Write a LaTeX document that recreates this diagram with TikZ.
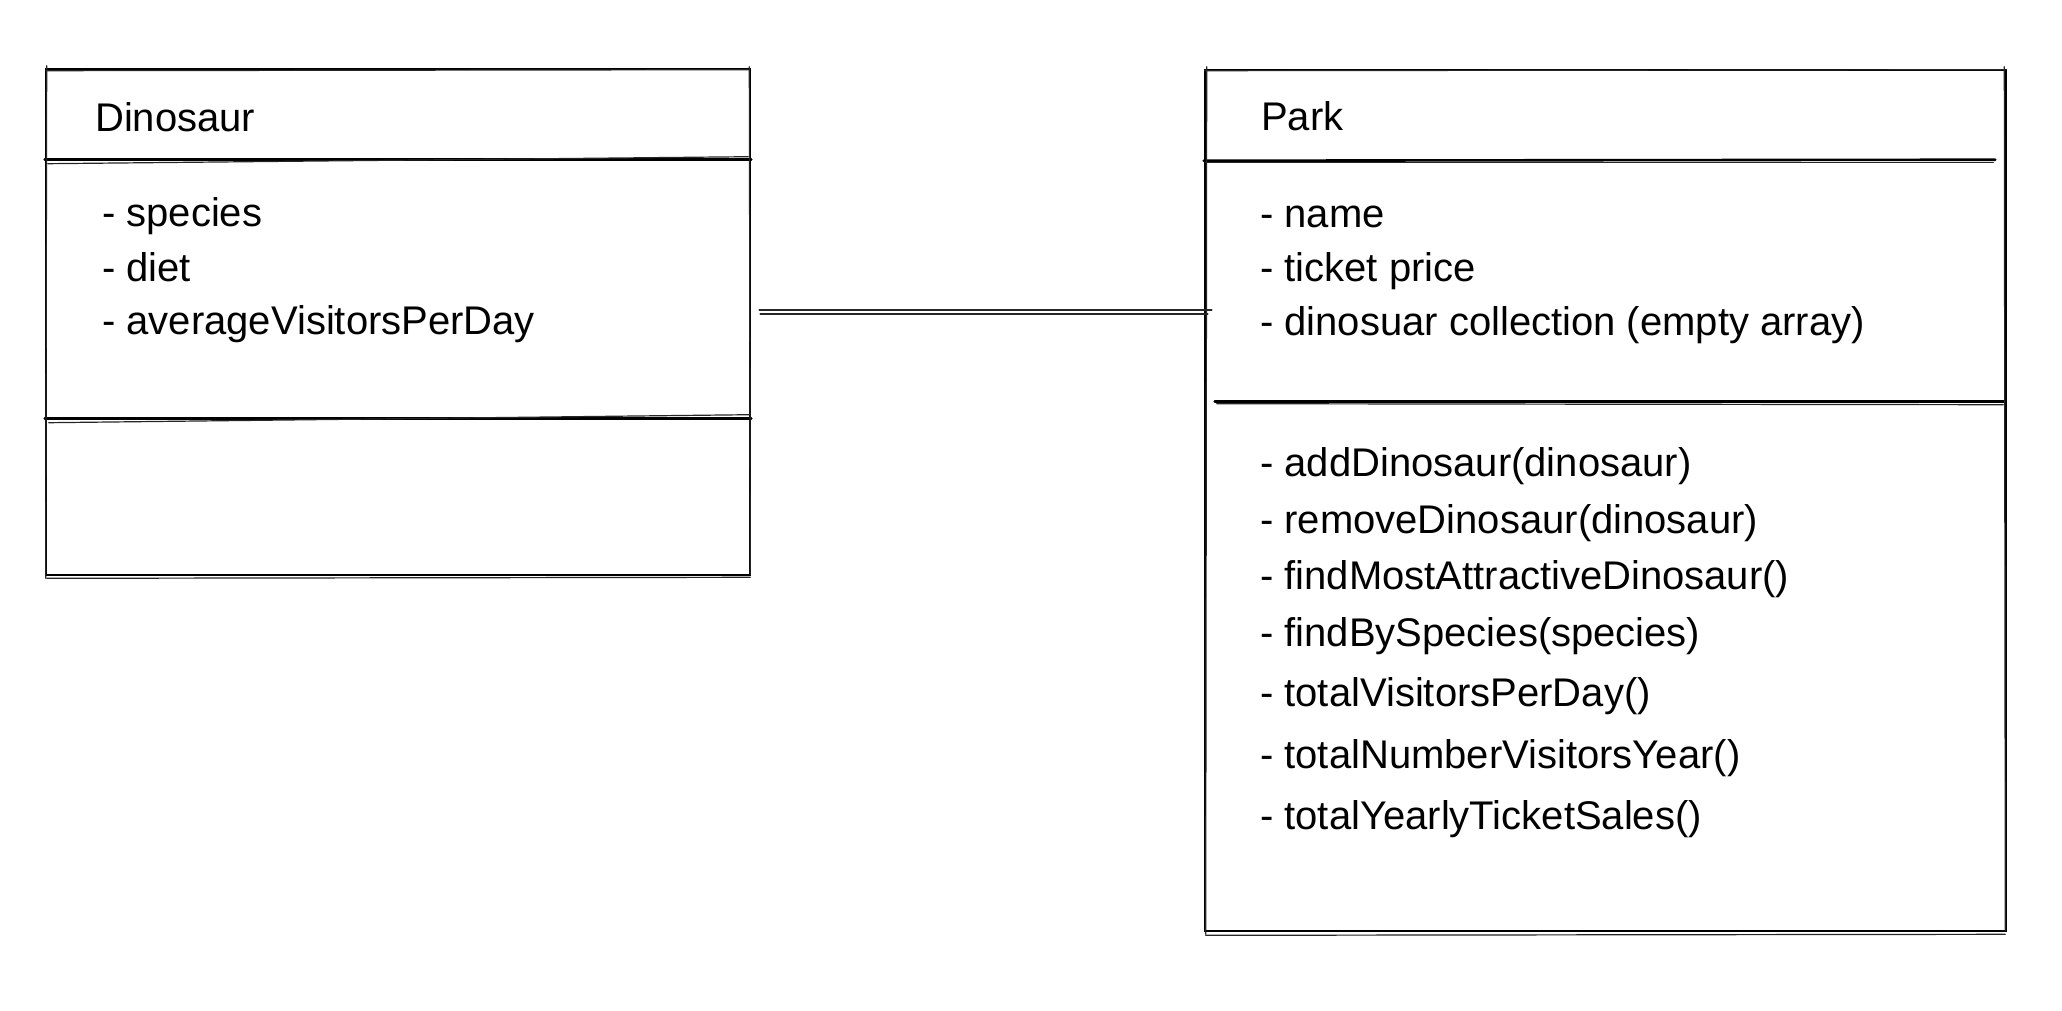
\documentclass[tikz,border=0pt]{standalone}
\usepackage{fontspec}
\setmainfont{Liberation Sans}
\begin{document}
\begin{tikzpicture}[x=1pt,y=-1pt,
  ink/.style={draw=black, line width=2.6pt, line cap=round},
  ink2/.style={draw=black!85, line width=1.2pt, line cap=round},
  umlbox/.style={ink, rectangle, inner sep=0pt, minimum width=#1},
  txt/.style={inner sep=0pt, anchor=base west, font=\fontsize{40}{48}\selectfont, text=black}
]
\useasboundingbox (0,0) rectangle (2062,1010);
% ---------- Dinosaur class ----------
\node[umlbox=704pt, minimum height=506pt] (dino) at (398,322) {};
\draw[ink] ([yshift=-92pt]dino.north west) coordinate (dh1) -- ([yshift=-92pt]dino.north east) coordinate (dh2);
\draw[ink] ([yshift=-351pt]dino.north west) coordinate (dd1) -- ([yshift=-351pt]dino.north east) coordinate (dd2);
% sketch double strokes
\draw[ink2] ([xshift=1pt,yshift=-3pt]dino.north west) -- ([xshift=-2pt,yshift=-2pt]dino.north east);
\draw[ink2] ([xshift=-2pt,yshift=1pt]dino.north east) -- ([xshift=-1pt,yshift=2pt]dino.south east);
\draw[ink2] ([xshift=2pt,yshift=-2pt]dino.south west) -- ([xshift=-1pt,yshift=-1pt]dino.south east);
\draw[ink2] ([xshift=2pt,yshift=2pt]dino.north west) -- ([xshift=1pt,yshift=-2pt]dino.south west);
\draw[ink2] ([xshift=3pt,yshift=-4pt]dh1) -- ([xshift=-3pt,yshift=3pt]dh2);
\draw[ink2] ([xshift=4pt,yshift=-4pt]dd1) -- ([xshift=-2pt,yshift=4pt]dd2);
\node[txt] (dname) at (95,131) {Dinosaur};
\node[txt] (da1) at (102,226) {- species};
\node[txt] (da2) at (102,281) {- diet};
\node[txt] (da3) at (102,334) {- averageVisitorsPerDay};
% ---------- Park class ----------
\node[umlbox=801pt, minimum height=861pt] (park) at (1605.5,500.5) {};
\draw[ink] ([yshift=-92pt]park.north west) coordinate (ph1) -- ([xshift=-12pt,yshift=-91pt]park.north east) coordinate (ph2);
\draw[ink] ([xshift=11pt,yshift=-333pt]park.north west) coordinate (pd1) -- ([xshift=-2pt,yshift=-333pt]park.north east) coordinate (pd2);
\draw[ink2] ([xshift=1pt,yshift=-2pt]park.north west) -- ([xshift=-2pt,yshift=-1pt]park.north east);
\draw[ink2] ([xshift=-3pt,yshift=2pt]park.north east) -- ([xshift=-2pt,yshift=2pt]park.south east);
\draw[ink2] ([xshift=2pt,yshift=-3pt]park.south west) -- ([xshift=-2pt,yshift=-2pt]park.south east);
\draw[ink2] ([xshift=3pt,yshift=2pt]park.north west) -- ([xshift=2pt,yshift=-2pt]park.south west);
\draw[ink2] ([xshift=2pt,yshift=-2pt]ph1) -- ([xshift=-2pt,yshift=-3pt]ph2);
\draw[ink2] ([xshift=2pt,yshift=-2pt]pd1) -- ([xshift=-2pt,yshift=-3pt]pd2);
\node[txt] (pname) at (1261,130) {Park};
\node[txt] (pa1) at (1260,227) {- name};
\node[txt] (pa2) at (1260,281) {- ticket price};
\node[txt] (pa3) at (1260,335) {- dinosuar collection (empty array)};
\node[txt] (pm1) at (1260,476) {- addDinosaur(dinosaur)};
\node[txt] (pm2) at (1260,533) {- removeDinosaur(dinosaur)};
\node[txt] (pm3) at (1260,589) {- findMostAttractiveDinosaur()};
\node[txt] (pm4) at (1260,646) {- findBySpecies(species)};
\node[txt] (pm5) at (1260,706) {- totalVisitorsPerDay()};
\node[txt] (pm6) at (1260,768) {- totalNumberVisitorsYear()};
\node[txt] (pm7) at (1260,829) {- totalYearlyTicketSales()};
% ---------- association ----------
\coordinate (cy) at (0,312);
\draw[ink2, line width=1.8pt] ([xshift=8pt,yshift=2pt]dino.east |- cy) -- ([xshift=8pt,yshift=2pt]park.west |- cy);
\draw[ink2, line width=1.8pt] ([xshift=9pt,yshift=-2pt]dino.east |- cy) -- ([xshift=4pt,yshift=-2pt]park.west |- cy);
\end{tikzpicture}
\end{document}
